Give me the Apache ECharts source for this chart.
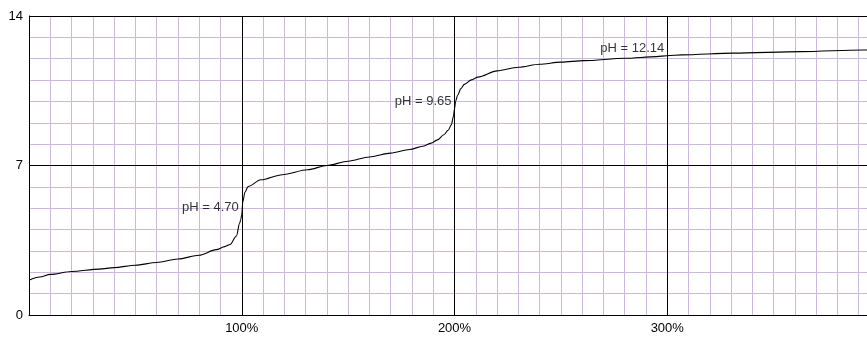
<!DOCTYPE html>
<html>
<head>
<meta charset="utf-8">
<script src="https://cdn.jsdelivr.net/npm/echarts@6/dist/echarts.min.js"></script>
<style>html,body{margin:0;padding:0;background:#fff;overflow:hidden;width:867px;height:338px}#c{width:880px;height:338px}</style>
</head>
<body>
<div id="c"></div>
<script>
// titrant added (%)
const addedPct = [0, 5, 10, 20, 33, 40, 50, 60, 70, 80, 88, 92, 94.5, 97.5, 99, 99.5, 100, 100.5, 101.5, 103, 109, 119, 131, 140, 150, 160, 170, 179, 185, 189, 192, 195, 197, 198.5, 199.5, 200, 200.5, 201.5, 203, 204.6, 208, 211, 220, 230, 240, 250, 261, 280, 295, 300, 307, 331, 363, 392, 400];
// pH values
const phValues = [1.63, 1.78, 1.9, 2.04, 2.15, 2.22, 2.33, 2.46, 2.62, 2.8, 3.06, 3.2, 3.3, 3.7, 4.3, 4.45, 4.7, 5.3, 5.75, 6.02, 6.33, 6.57, 6.8, 7.0, 7.2, 7.4, 7.58, 7.75, 7.9, 8.05, 8.2, 8.44, 8.65, 8.9, 9.3, 9.65, 10.0, 10.3, 10.6, 10.8, 11.01, 11.14, 11.43, 11.6, 11.74, 11.84, 11.91, 12.02, 12.1, 12.14, 12.18, 12.26, 12.33, 12.41, 12.43];
// equivalence point annotations
const eqX = [100, 200, 300];
const eqPH = [4.70, 9.65, 12.14];
const eqLabels = ['pH = 4.70', 'pH = 9.65', 'pH = 12.14'];
// tick labels
const yTicks = [0, 7, 14];

const FONT = "'Liberation Sans', Arial, sans-serif";
const minorColor = '#c9b9dc';
const chart = echarts.init(document.getElementById('c'), null, {renderer: 'canvas'});
chart.setOption({
  animation: false,
  backgroundColor: '#fff',
  grid: {left: 29, top: 16, right: 0, bottom: 23, containLabel: false},
  xAxis: [
    {type: 'value', min: 0, max: 400, interval: 10, z: 0,
     axisLine: {show: false}, axisTick: {show: false}, axisLabel: {show: false},
     splitLine: {show: true, lineStyle: {color: minorColor, width: 1}}},
    {type: 'value', min: 0, max: 400, interval: 100, z: 1, position: 'bottom',
     axisLine: {show: true, onZero: false, lineStyle: {color: '#000', width: 1}},
     axisTick: {show: false},
     axisLabel: {show: true, color: '#000', fontFamily: FONT, fontSize: 13, margin: 7,
       showMinLabel: false, showMaxLabel: false, formatter: v => v + '%'},
     splitLine: {show: true, lineStyle: {color: '#000', width: 1}}}
  ],
  yAxis: [
    {type: 'value', min: 0, max: 14, interval: 1, z: 0,
     axisLine: {show: false}, axisTick: {show: false}, axisLabel: {show: false},
     splitLine: {show: true, lineStyle: {color: minorColor, width: 1}}},
    {type: 'value', min: 0, max: 14, interval: 7, z: 1, position: 'left',
     axisLine: {show: true, onZero: false, lineStyle: {color: '#000', width: 1}},
     axisTick: {show: false},
     axisLabel: {show: true, color: '#000', fontFamily: FONT, fontSize: 13, margin: 6,
       formatter: v => yTicks.includes(v) ? String(v) : ''},
     splitLine: {show: true, lineStyle: {color: '#000', width: 1}}}
  ],
  series: [
    {type: 'line', xAxisIndex: 1, yAxisIndex: 1, z: 5,
     data: addedPct.map((x, i) => [x, phValues[i]]),
     showSymbol: false, smooth: 0.3, smoothMonotone: 'x',
     lineStyle: {color: '#000', width: 1.1}},
    {type: 'scatter', xAxisIndex: 1, yAxisIndex: 1, z: 6,
     data: eqX.map((x, i) => ({value: [x, eqPH[i]], name: eqLabels[i]})),
     symbolSize: 0,
     label: {show: true, position: 'left', distance: 3, offset: [0, -7],
       formatter: p => p.name, color: '#000', fontFamily: FONT, fontSize: 13}}
  ]
});
</script>
</body>
</html>
